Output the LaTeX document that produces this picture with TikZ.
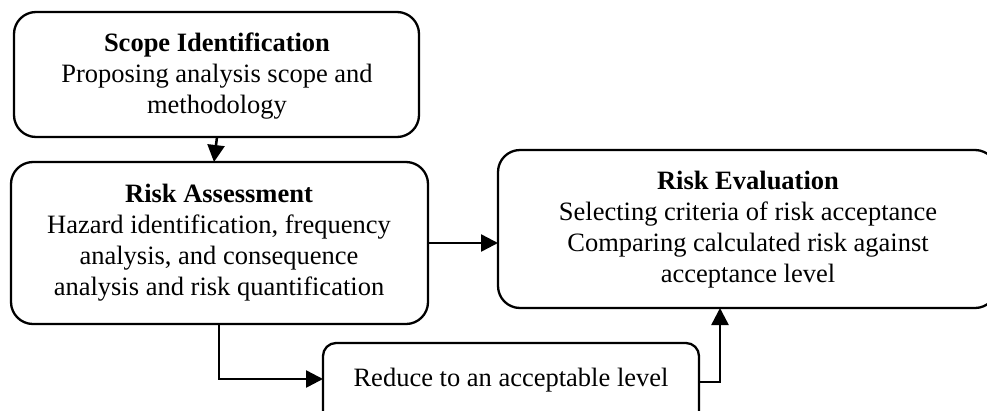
\documentclass[tikz,border=0pt]{standalone}
\usepackage{fontspec}
\setmainfont{Liberation Serif}
\usetikzlibrary{arrows.meta}
\begin{document}
\begin{tikzpicture}[x=1pt,y=-1pt,
  box/.style={draw,line width=2.3pt,rounded corners=22pt},
  txt/.style={align=center,font=\fontsize{26.5}{31}\selectfont,inner sep=0pt},
  flow/.style={line width=2.5pt,-{Triangle[length=17pt,width=17pt]}}]
\useasboundingbox (0,0) rectangle (987,410);
\clip (0,0) rectangle (987,410);
% process boxes
\draw[box] (14,12) rectangle (419,137);
\node[txt] (scope) at (217,76) {\textbf{Scope Identification}\\Proposing analysis scope and\\methodology};
\draw[box] (11,162) rectangle (428,324);
\node[txt] (assess) at (219,243) {\textbf{Risk Assessment}\\Hazard identification, frequency\\analysis, and consequence\\analysis and risk quantification};
\draw[box] (498,150) rectangle (997,308);
\node[txt] (eval) at (748,230) {\textbf{Risk Evaluation}\\Selecting criteria of risk acceptance\\Comparing calculated risk against\\acceptance level};
\draw[box,rounded corners=13pt] (323,343) rectangle (699,430);
\node[txt] (reduce) at (511,380) {Reduce to an acceptable level};
% connector end points on the box borders
\coordinate (a1) at (217,137);
\coordinate (a2) at (214,162);
\coordinate (b1) at (428,243);
\coordinate (b2) at (498,243);
\coordinate (c1) at (219,324);
\coordinate (c2) at (323,379);
\coordinate (d1) at (699,382);
\coordinate (d2) at (720,308);
\draw[flow] (a1) -- (a2);
\draw[flow] (b1) -- (b2);
\draw[flow] (c1) |- (c2);
\draw[flow] (d1) -| (d2);
\end{tikzpicture}
\end{document}
